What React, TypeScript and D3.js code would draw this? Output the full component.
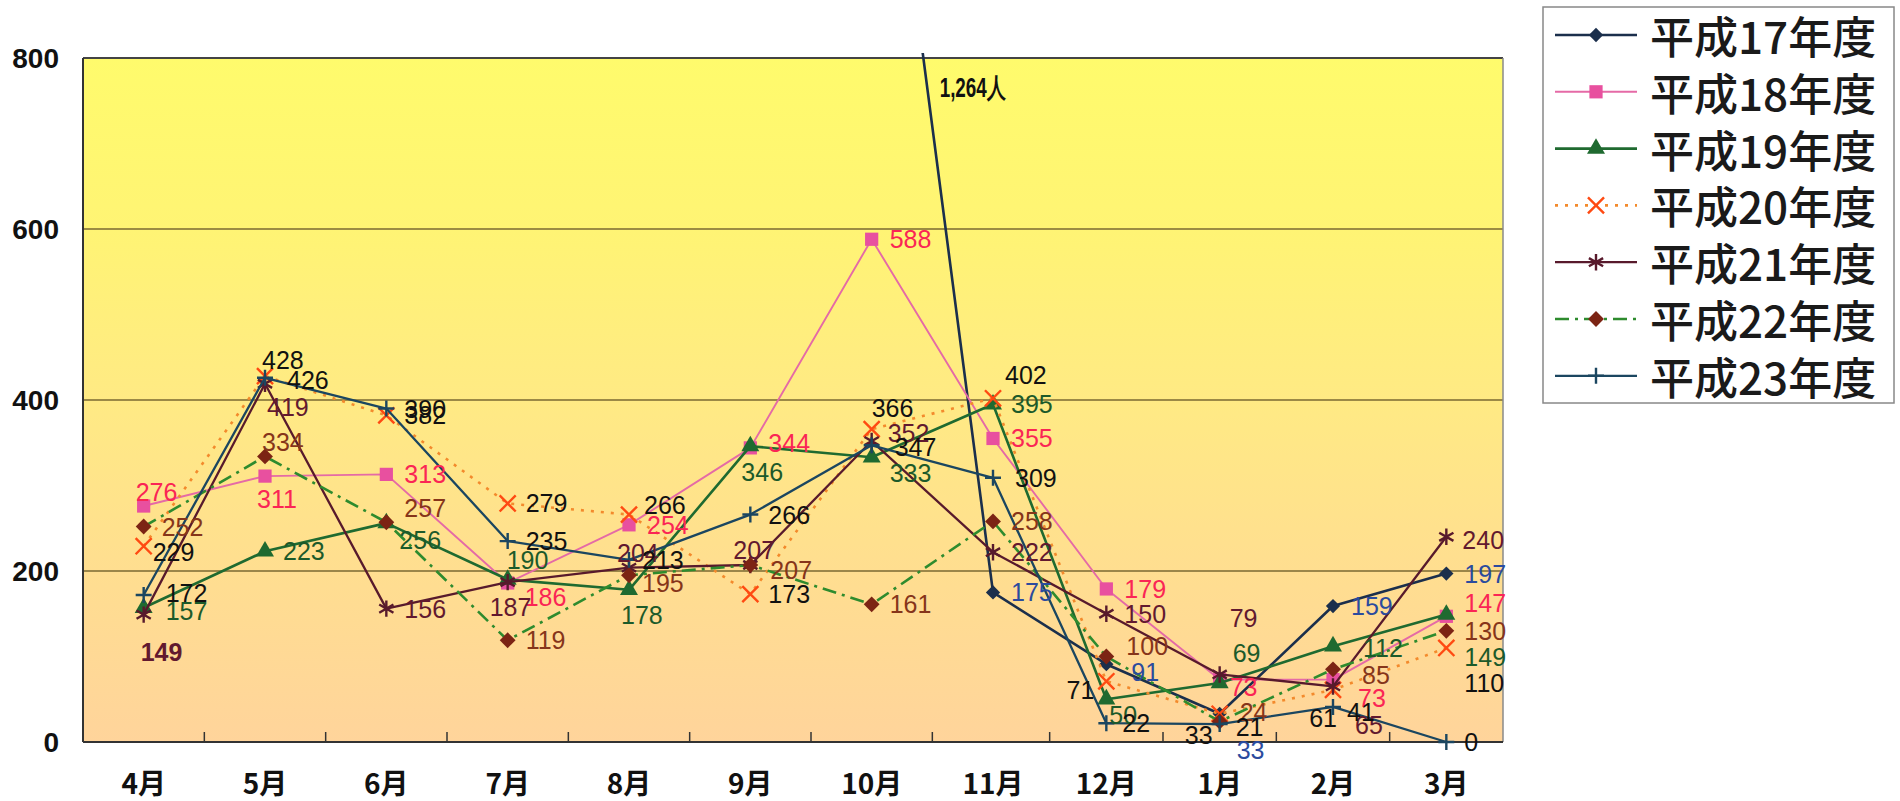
import { useEffect, useRef } from "react";
import * as d3 from "d3";

// ---- data ----
const months = ["4月", "5月", "6月", "7月", "8月", "9月", "10月", "11月", "12月", "1月", "2月", "3月"];
const yTicks = [0, 200, 400, 600, 800];
const seriesNames = ["平成17年度", "平成18年度", "平成19年度", "平成20年度", "平成21年度", "平成22年度", "平成23年度"];

const h17: (number | null)[] = [null, null, null, null, null, null, 1264, 175, 91, 33, 159, 197];
const h18 = [276, 311, 313, 186, 254, 344, 588, 355, 179, 73, 73, 147];
const h19 = [157, 223, 256, 190, 178, 346, 333, 395, 50, 69, 112, 149];
const h20 = [229, 428, 382, 279, 266, 173, 366, 402, 71, 33, 61, 110];
const h21 = [149, 419, 156, 187, 204, 207, 352, 222, 150, 79, 65, 240];
const h22 = [252, 334, 257, 119, 195, 207, 161, 258, 100, 24, 85, 130];
const h23 = [172, 426, 390, 235, 213, 266, 347, 309, 22, 21, 41, 0];

const allSeries = [h17, h18, h19, h20, h21, h22, h23];
const offScaleNote = "1,264人";

// ---- styling ----
type Style = {
  line: string; width: number; dash?: string;
  symbol: d3.SymbolType; size: number; fill: string | null; stroke: string | null;
  label: string;
};
const styles: Style[] = [
  { line: "#1b2f4c", width: 2.6, symbol: d3.symbolDiamond2, size: 130, fill: "#1b2f4c", stroke: null, label: "#2b4b9e" },
  { line: "#e56aa6", width: 1.9, symbol: d3.symbolSquare, size: 175, fill: "#e8509f", stroke: null, label: "#fa2555" },
  { line: "#1f6a30", width: 2.6, symbol: d3.symbolTriangle, size: 140, fill: "#1f6a30", stroke: null, label: "#1c5a2a" },
  { line: "#f38a2c", width: 2.6, dash: "3 7", symbol: d3.symbolTimes, size: 170, fill: null, stroke: "#ff4a12", label: "#111111" },
  { line: "#581a2c", width: 2.3, symbol: d3.symbolAsterisk, size: 190, fill: null, stroke: "#581a2c", label: "#62192f" },
  { line: "#2e8b2e", width: 2.6, dash: "14 6 3 6", symbol: d3.symbolDiamond2, size: 160, fill: "#7c2414", stroke: null, label: "#86351a" },
  { line: "#1b4660", width: 2.3, symbol: d3.symbolPlus, size: 85, fill: null, stroke: "#1b4660", label: "#111111" },
];

// label nudges: "series-month" -> [dx, dy, anchor]
const labelNudge: Record<string, [number, number, string?]> = {
  "0-8": [25, 8], "0-9": [17, 36],
  "1-0": [-8, -14], "1-1": [-8, 23], "1-3": [17, 14], "1-5": [18, -5], "1-9": [10, 7], "1-10": [25, 18], "1-11": [18, -13],
  "2-0": [22, 3], "2-2": [13, 17], "2-3": [-1, -20], "2-4": [-8, 25], "2-5": [-9, 26], "2-6": [18, 16], "2-8": [3, 16],
  "2-9": [13, -30], "2-10": [30, 2], "2-11": [18, 42],
  "3-0": [9, 6], "3-1": [-3, -16], "3-4": [15, -10], "3-6": [0, -21], "3-7": [12, -23], "3-8": [-12, 9, "end"],
  "3-9": [-7, 21, "end"], "3-10": [4, 28, "end"], "3-11": [18, 35],
  "4-0": [-3, 37], "4-1": [2, 23], "4-3": [-18, 25], "4-4": [-12, -15], "4-5": [-17, -15], "4-6": [16, -8],
  "4-9": [10, -56], "4-10": [22, 39], "4-11": [16, 3],
  "5-1": [-3, -14], "5-2": [18, -14], "5-4": [13, 8], "5-5": [20, 5], "5-8": [20, -11], "5-9": [20, -9], "5-10": [29, 6],
  "6-0": [22, -2], "6-1": [22, 2], "6-4": [13, 0], "6-6": [23, 2], "6-7": [22, 0], "6-8": [16, 0], "6-9": [16, 3], "6-10": [14, 5],
};

export default function App() {
  const svgRef = useRef<SVGSVGElement>(null);

  useEffect(() => {
    if (!svgRef.current) return;
    const W = 1900, H = 801;
    const root = d3.select(svgRef.current);
    root.selectAll("*").remove();
    root.attr("width", W).attr("height", H).attr("viewBox", `0 0 ${W} ${H}`);

    const plot = { left: 83, right: 1503, top: 58, bottom: 742 };

    // the scan is slightly stretched on the left, so x is piecewise
    const x = d3.scaleLinear().domain([-0.5, 7, 11.5]).range([plot.left, 993, plot.right]);
    const y = d3.scaleLinear().domain([0, 800]).range([plot.bottom, plot.top]);

    const defs = root.append("defs");
    const grad = defs.append("linearGradient").attr("id", "bg").attr("x1", 0).attr("y1", 0).attr("x2", 0).attr("y2", 1);
    [["0%", "#fffb6c"], ["25%", "#fff474"], ["50%", "#ffea84"], ["75%", "#ffde90"], ["100%", "#ffd49b"]].forEach(([o, c]) =>
      grad.append("stop").attr("offset", o).attr("stop-color", c));
    defs.append("clipPath").attr("id", "plotClip").append("rect")
      .attr("x", plot.left).attr("y", plot.top - 5)
      .attr("width", plot.right - plot.left + 60).attr("height", plot.bottom - plot.top + 30);

    root.append("rect").attr("width", W).attr("height", H).attr("fill", "#ffffff");
    root.append("rect")
      .attr("x", plot.left).attr("y", plot.top)
      .attr("width", plot.right - plot.left).attr("height", plot.bottom - plot.top)
      .attr("fill", "url(#bg)");

    // gridlines
    root.append("g").selectAll("line").data(yTicks.filter(t => t > 0 && t < 800)).enter().append("line")
      .attr("x1", plot.left).attr("x2", plot.right)
      .attr("y1", d => y(d)).attr("y2", d => y(d))
      .attr("stroke", "#7a6832").attr("stroke-width", 1.5);
    root.append("line").attr("x1", plot.left).attr("x2", plot.right).attr("y1", y(800)).attr("y2", y(800))
      .attr("stroke", "#444").attr("stroke-width", 1.8);
    root.append("line").attr("x1", plot.right).attr("x2", plot.right).attr("y1", plot.top).attr("y2", plot.bottom)
      .attr("stroke", "#8a8a8a").attr("stroke-width", 1.5);

    // axes
    root.append("line").attr("x1", plot.left).attr("x2", plot.left).attr("y1", plot.top).attr("y2", plot.bottom)
      .attr("stroke", "#333").attr("stroke-width", 2);
    root.append("line").attr("x1", plot.left).attr("x2", plot.right).attr("y1", plot.bottom).attr("y2", plot.bottom)
      .attr("stroke", "#333").attr("stroke-width", 2);
    root.append("g").selectAll("line").data(d3.range(months.length - 1)).enter().append("line")
      .attr("x1", d => x(d + 0.5)).attr("x2", d => x(d + 0.5))
      .attr("y1", plot.bottom).attr("y2", plot.bottom - 10)
      .attr("stroke", "#333").attr("stroke-width", 1.5);

    root.append("g").selectAll("text").data(yTicks).enter().append("text")
      .attr("x", 59).attr("y", d => y(d))
      .attr("text-anchor", "end").attr("dominant-baseline", "central")
      .attr("font-family", "'Liberation Sans', Arial, sans-serif").attr("font-weight", 700)
      .attr("font-size", 28).attr("fill", "#111")
      .text(d => d);

    root.append("g").selectAll("text").data(months).enter().append("text")
      .attr("x", (_d, i) => x(i)).attr("y", 782)
      .attr("text-anchor", "middle").attr("dominant-baseline", "central")
      .attr("font-family", "'Noto Sans CJK JP', sans-serif").attr("font-weight", 700)
      .attr("font-size", 28).attr("fill", "#111")
      .text(d => d);

    // series
    const series = root.append("g").attr("clip-path", "url(#plotClip)");
    allSeries.forEach((vals, si) => {
      const st = styles[si];
      const pts = vals.map((v, i) => ({ i, v }));
      const line = d3.line<{ i: number; v: number | null }>()
        .defined(d => d.v != null)
        .x(d => x(d.i)).y(d => y(d.v as number));
      series.append("path")
        .attr("d", line(pts))
        .attr("fill", "none").attr("stroke", st.line).attr("stroke-width", st.width)
        .attr("stroke-dasharray", st.dash ?? null)
        .attr("stroke-linejoin", "round");
      const sym = d3.symbol().type(st.symbol).size(st.size);
      series.append("g").selectAll("path")
        .data(pts.filter(d => d.v != null && (d.v as number) <= 800)).enter().append("path")
        .attr("transform", d => `translate(${x(d.i)},${y(d.v as number)})`)
        .attr("d", sym())
        .attr("fill", st.fill ?? "none")
        .attr("stroke", st.stroke ?? "none")
        .attr("stroke-width", st.stroke ? 2.4 : 0);
    });

    // data labels
    const labels = root.append("g")
      .attr("font-family", "'Liberation Sans', Arial, sans-serif").attr("font-size", 25);
    allSeries.forEach((vals, si) => {
      vals.forEach((v, i) => {
        if (v == null || v > 800) return;
        const [dx, dy, anchor] = labelNudge[`${si}-${i}`] ?? [18, 0];
        labels.append("text")
          .attr("x", x(i) + dx).attr("y", y(v) + dy)
          .attr("text-anchor", anchor ?? "start").attr("dominant-baseline", "central")
          .attr("fill", styles[si].label)
          .attr("font-weight", si === 4 && i === 0 ? 700 : null)
          .text(v);
      });
    });
    root.append("text")
      .attr("x", x(6) + 68).attr("y", y(800) + 30)
      .attr("dominant-baseline", "central")
      .attr("font-family", "'Liberation Sans', Arial, sans-serif").attr("font-weight", 700)
      .attr("font-size", 27).attr("fill", "#111")
      .attr("textLength", 66).attr("lengthAdjust", "spacingAndGlyphs")
      .text(offScaleNote);

    // legend
    const lg = root.append("g");
    lg.append("rect").attr("x", 1543).attr("y", 7).attr("width", 351).attr("height", 396)
      .attr("fill", "#fff").attr("stroke", "#888").attr("stroke-width", 1.5);
    seriesNames.forEach((name, si) => {
      const st = styles[si];
      const cy = 35 + si * 56.8;
      lg.append("line").attr("x1", 1555).attr("x2", 1637).attr("y1", cy).attr("y2", cy)
        .attr("stroke", st.line).attr("stroke-width", st.width)
        .attr("stroke-dasharray", st.dash ?? null);
      lg.append("path")
        .attr("transform", `translate(1596,${cy})`)
        .attr("d", d3.symbol().type(st.symbol).size(st.size)())
        .attr("fill", st.fill ?? "none")
        .attr("stroke", st.stroke ?? "none")
        .attr("stroke-width", st.stroke ? 2.4 : 0);
      lg.append("text").attr("x", 1650).attr("y", cy)
        .attr("dominant-baseline", "central")
        .attr("font-family", "'Noto Sans CJK JP', sans-serif").attr("font-weight", 500)
        .attr("font-size", 44).attr("fill", "#1a1a1a")
        .text(name);
    });
  }, []);

  return <svg ref={svgRef} style={{ position: "absolute", left: 0, top: 0, display: "block" }} />;
}
